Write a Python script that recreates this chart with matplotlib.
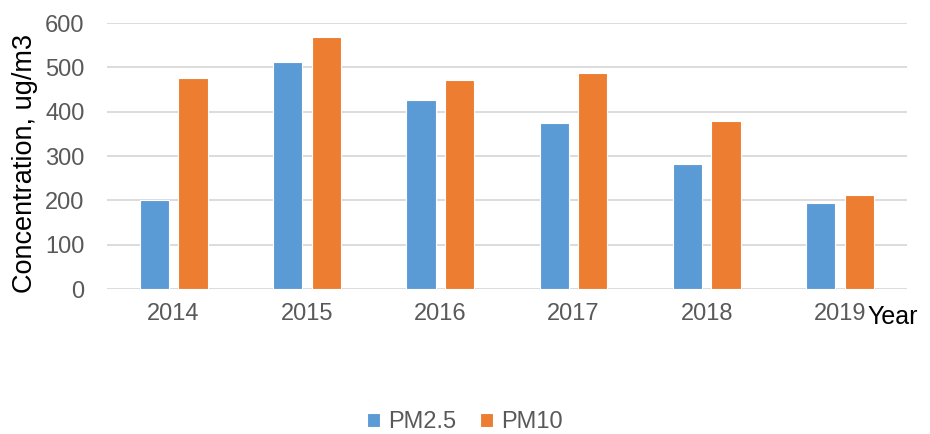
import matplotlib
matplotlib.use("Agg")
import matplotlib.pyplot as plt
import numpy as np

years = ["2014", "2015", "2016", "2017", "2018", "2019"]
pm25 = [200, 512, 426, 374, 281, 194]
pm10 = [475, 568, 472, 487, 379, 211]
yticks = [0, 100, 200, 300, 400, 500, 600]

plt.rcParams['font.family'] = ['Liberation Sans', 'DejaVu Sans']

fig = plt.figure(figsize=(9.3, 4.34), dpi=100)
ax = fig.add_axes([0.115, 0.334, 0.86, 0.613])

x = np.arange(len(years))
w = 0.22
off = 0.145
ax.bar(x - off, pm25, w, color="#5B9BD5", edgecolor="white", linewidth=0.8, label="PM2.5", zorder=3)
ax.bar(x + off, pm10, w, color="#ED7D31", edgecolor="white", linewidth=0.8, label="PM10", zorder=3)

ax.set_xlim(-0.5, len(years) - 0.5)
ax.set_ylim(0, 600)
ax.set_yticks(yticks)
ax.set_yticklabels([str(v) for v in yticks], fontsize=17, color="#595959")
ax.set_xticks(x)
ax.set_xticklabels(years, fontsize=17, color="#595959")
ax.tick_params(axis="y", length=0, pad=16)
ax.tick_params(axis="x", length=0, pad=10)
ax.grid(axis="y", color="#d9d9d9", linewidth=1.3, zorder=0)
for s in ax.spines.values():
    s.set_visible(False)

fig.text(25 / 930, 1 - 163 / 434, "Concentration, ug/m3", fontsize=19.5, color="black",
         rotation=90, ha="center", va="center")
fig.text(867 / 930, 1 - 317 / 434, "Year", fontsize=18, color="black", ha="left", va="center")

leg = fig.legend(loc="center", bbox_to_anchor=(0.5, 1 - 422 / 434), ncol=2, frameon=False,
                 fontsize=17, handlelength=0.55, handleheight=0.55, handletextpad=0.35,
                 columnspacing=1.0)
for t in leg.get_texts():
    t.set_color("#595959")

fig.savefig("out.png", dpi=100)
